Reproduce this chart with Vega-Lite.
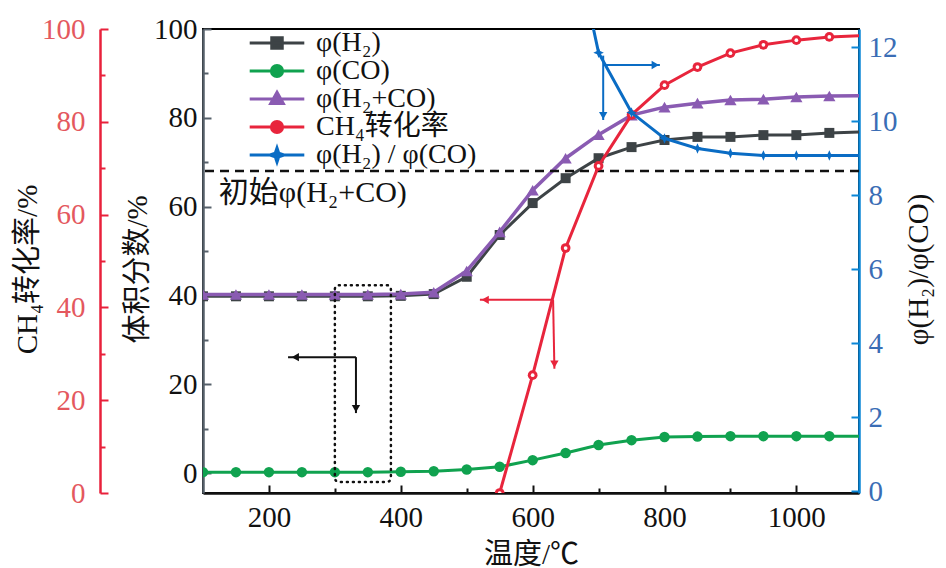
{
  "$schema": "https://vega.github.io/schema/vega-lite/v6.json",
  "width": 656,
  "height": 464,
  "autosize": {"type": "none"},
  "padding": {"left": 203, "top": 29, "right": 87, "bottom": 75},
  "background": "white",
  "config": {
    "font": "Liberation Serif, Noto Sans CJK SC",
    "style": {
      "guide-label": {"font": "Liberation Serif", "fontSize": 29},
      "guide-title": {"font": "Liberation Serif, Noto Sans CJK SC"}
    },
    "view": {"stroke": "black", "strokeWidth": 2},
    "axis": {
      "grid": false,
      "labelFont": "Liberation Serif",
      "labelFontSize": 29,
      "labelColor": "#111111",
      "titleFont": "Liberation Serif, Noto Sans CJK SC",
      "titleFontSize": 29,
      "titleFontWeight": "normal",
      "titleColor": "#111111",
      "tickWidth": 2,
      "domainWidth": 2.5
    },
    "legend": {
      "orient": "none",
      "legendX": 60,
      "legendY": 0,
      "padding": 0,
      "labelFont": "Liberation Serif, Noto Sans CJK SC",
      "labelFontSize": 28,
      "labelColor": "#111111",
      "labelOffset": 25,
      "labelLimit": 400,
      "rowPadding": 0,
      "symbolSize": 196,
      "symbolStrokeWidth": 3,
      "symbolOpacity": 1
    }
  },
  "datasets": {
    "main": [
      {"T": 100, "H2": 39.8, "CO": 0.2, "sum": 40.2, "X": null, "R": null},
      {"T": 150, "H2": 39.8, "CO": 0.2, "sum": 40.2, "X": null, "R": null},
      {"T": 200, "H2": 39.8, "CO": 0.2, "sum": 40.2, "X": null, "R": null},
      {"T": 250, "H2": 39.8, "CO": 0.2, "sum": 40.2, "X": null, "R": null},
      {"T": 300, "H2": 39.8, "CO": 0.2, "sum": 40.2, "X": null, "R": null},
      {"T": 350, "H2": 39.8, "CO": 0.2, "sum": 40.2, "X": null, "R": null},
      {"T": 400, "H2": 39.9, "CO": 0.3, "sum": 40.3, "X": null, "R": null},
      {"T": 450, "H2": 40.3, "CO": 0.4, "sum": 40.7, "X": null, "R": null},
      {"T": 500, "H2": 44.2, "CO": 0.8, "sum": 45.5, "X": null, "R": null},
      {"T": 550, "H2": 53.6, "CO": 1.4, "sum": 54.3, "X": 0, "R": null},
      {"T": 600, "H2": 60.8, "CO": 2.9, "sum": 63.7, "X": 25.4, "R": null},
      {"T": 650, "H2": 66.4, "CO": 4.5, "sum": 70.9, "X": 52.8, "R": 16},
      {"T": 700, "H2": 70.9, "CO": 6.3, "sum": 76.2, "X": 70.5, "R": 11.86},
      {"T": 750, "H2": 73.4, "CO": 7.4, "sum": 80.6, "X": 81.5, "R": 10.24},
      {"T": 800, "H2": 75, "CO": 8.1, "sum": 82.4, "X": 87.9, "R": 9.54},
      {"T": 850, "H2": 75.7, "CO": 8.2, "sum": 83.3, "X": 91.8, "R": 9.27},
      {"T": 900, "H2": 75.7, "CO": 8.3, "sum": 84, "X": 94.8, "R": 9.14},
      {"T": 950, "H2": 76.1, "CO": 8.3, "sum": 84.2, "X": 96.6, "R": 9.08},
      {"T": 1000, "H2": 76.1, "CO": 8.3, "sum": 84.7, "X": 97.6, "R": 9.08},
      {"T": 1050, "H2": 76.6, "CO": 8.3, "sum": 84.9, "X": 98.3, "R": 9.08},
      {"T": 1100, "H2": 76.8, "CO": 8.3, "sum": 85, "X": 98.6, "R": 9.08}
    ],
    "legendItems": [
      {"name": "φ(H₂)"},
      {"name": "φ(CO)"},
      {"name": "φ(H₂+CO)"},
      {"name": "CH₄转化率"},
      {"name": "φ(H₂) / φ(CO)"}
    ]
  },
  "resolve": {"scale": {"y": "independent"}},
  "layer": [
    {
      "data": {"name": "main"},
      "layer": [
        {
          "mark": {"type": "line", "color": "#3d4346", "strokeWidth": 3, "clip": true},
          "encoding": {
            "x": {
              "field": "T", "type": "quantitative",
              "scale": {"domain": [100, 1095], "nice": false},
              "axis": {
                "title": "温度/℃",
                "values": [200, 300, 400, 500, 600, 700, 800, 900, 1000],
                "format": "d",
                "labelFont": "Liberation Serif",
                "labelFontSize": 29,
                "labelExpr": "datum.value % 200 === 0 ? datum.label : ''",
                "tickSize": {"condition": {"test": "datum.value % 200 === 0", "value": -8}, "value": -5},
                "labelPadding": 18,
                "domainColor": "#111111",
                "tickColor": "#111111",
                "titlePadding": 8
              }
            },
            "y": {
              "field": "H2", "type": "quantitative",
              "scale": {"domain": [-4.5, 100], "nice": false},
              "axis": {
                "orient": "left",
                "title": "体积分数/%",
                "values": [0, 10, 20, 30, 40, 50, 60, 70, 80, 90, 100],
                "labelFont": "Liberation Serif",
                "labelFontSize": 29,
                "labelExpr": "datum.value % 20 === 0 ? datum.label : ''",
                "tickSize": {"condition": {"test": "datum.value % 20 === 0", "value": -8}, "value": -5},
                "labelPadding": 14,
                "domainColor": "#56606a",
                "tickColor": "#56606a",
                "titleX": -66,
                "titleY": 240,
                "titleAngle": 270,
                "titleAlign": "center",
                "titleBaseline": "middle"
              }
            }
          }
        },
        {
          "transform": [{"filter": "datum.T <= 1050"}],
          "mark": {"type": "point", "shape": "square", "size": 100, "filled": true, "opacity": 1, "color": "#3d4346", "clip": true},
          "encoding": {
            "x": {"field": "T", "type": "quantitative", "scale": {"domain": [100, 1095], "nice": false}},
            "y": {"field": "H2", "type": "quantitative", "scale": {"domain": [-4.5, 100], "nice": false}}
          }
        },
        {
          "mark": {"type": "line", "color": "#10a24f", "strokeWidth": 3, "clip": true},
          "encoding": {
            "x": {"field": "T", "type": "quantitative", "scale": {"domain": [100, 1095], "nice": false}},
            "y": {"field": "CO", "type": "quantitative", "scale": {"domain": [-4.5, 100], "nice": false}}
          }
        },
        {
          "transform": [{"filter": "datum.T <= 1050"}],
          "mark": {"type": "point", "shape": "circle", "size": 110, "filled": true, "opacity": 1, "color": "#10a24f", "clip": true},
          "encoding": {
            "x": {"field": "T", "type": "quantitative", "scale": {"domain": [100, 1095], "nice": false}},
            "y": {"field": "CO", "type": "quantitative", "scale": {"domain": [-4.5, 100], "nice": false}}
          }
        },
        {
          "mark": {"type": "line", "color": "#8a5bb2", "strokeWidth": 3.5, "clip": true},
          "encoding": {
            "x": {"field": "T", "type": "quantitative", "scale": {"domain": [100, 1095], "nice": false}},
            "y": {"field": "sum", "type": "quantitative", "scale": {"domain": [-4.5, 100], "nice": false}}
          }
        },
        {
          "transform": [{"filter": "datum.T <= 1050"}],
          "mark": {"type": "point", "shape": "triangle-up", "size": 150, "filled": true, "opacity": 1, "color": "#8a5bb2", "clip": true},
          "encoding": {
            "x": {"field": "T", "type": "quantitative", "scale": {"domain": [100, 1095], "nice": false}},
            "y": {"field": "sum", "type": "quantitative", "scale": {"domain": [-4.5, 100], "nice": false}}
          }
        },
        {
          "data": {"values": [{"v": 68}]},
          "mark": {"type": "rule", "color": "#111111", "strokeWidth": 2.5, "strokeDash": [9, 6]},
          "encoding": {
            "y": {"field": "v", "type": "quantitative", "scale": {"domain": [-4.5, 100], "nice": false}}
          }
        },
        {
          "data": {"values": [{"x": 124, "y": 63, "label": "初始φ(H₂+CO)"}]},
          "mark": {"type": "text", "align": "left", "baseline": "middle", "font": "Liberation Serif, Noto Sans CJK SC", "fontSize": 30, "color": "#111111"},
          "encoding": {
            "x": {"field": "x", "type": "quantitative", "scale": {"domain": [100, 1095], "nice": false}},
            "y": {"field": "y", "type": "quantitative", "scale": {"domain": [-4.5, 100], "nice": false}},
            "text": {"field": "label"}
          }
        },
        {
          "data": {"values": [{"x": 300, "x2": 385, "y": -2, "y2": 42.3}]},
          "mark": {"type": "rect", "fillOpacity": 0, "stroke": "#111111", "strokeWidth": 2.5, "strokeDash": [1, 5], "strokeCap": "round", "cornerRadius": 4},
          "encoding": {
            "x": {"field": "x", "type": "quantitative", "scale": {"domain": [100, 1095], "nice": false}},
            "x2": {"field": "x2"},
            "y": {"field": "y", "type": "quantitative", "scale": {"domain": [-4.5, 100], "nice": false}},
            "y2": {"field": "y2"}
          }
        },
        {
          "data": {"values": [{"x": 229, "y": 26.1, "x2": 332, "y2": 26.1}, {"x": 332, "y": 26.1, "x2": 332, "y2": 13.5}]},
          "mark": {"type": "rule", "color": "#111111", "strokeWidth": 2},
          "encoding": {
            "x": {"field": "x", "type": "quantitative", "scale": {"domain": [100, 1095], "nice": false}},
            "x2": {"field": "x2"},
            "y": {"field": "y", "type": "quantitative", "scale": {"domain": [-4.5, 100], "nice": false}},
            "y2": {"field": "y2"}
          }
        },
        {
          "data": {"values": [{"x": 240, "y": 26.1}]},
          "mark": {"type": "point", "shape": "triangle-left", "size": 70, "filled": true, "opacity": 1, "color": "#111111"},
          "encoding": {
            "x": {"field": "x", "type": "quantitative", "scale": {"domain": [100, 1095], "nice": false}},
            "y": {"field": "y", "type": "quantitative", "scale": {"domain": [-4.5, 100], "nice": false}}
          }
        },
        {
          "data": {"values": [{"x": 332, "y": 14.5}]},
          "mark": {"type": "point", "shape": "triangle-down", "size": 70, "filled": true, "opacity": 1, "color": "#111111"},
          "encoding": {
            "x": {"field": "x", "type": "quantitative", "scale": {"domain": [100, 1095], "nice": false}},
            "y": {"field": "y", "type": "quantitative", "scale": {"domain": [-4.5, 100], "nice": false}}
          }
        },
        {
          "data": {"values": [{"x": 520, "y": 39, "x2": 631, "y2": 39}, {"x": 631, "y": 39, "x2": 633, "y2": 23.5}]},
          "mark": {"type": "rule", "color": "#e8253c", "strokeWidth": 2},
          "encoding": {
            "x": {"field": "x", "type": "quantitative", "scale": {"domain": [100, 1095], "nice": false}},
            "x2": {"field": "x2"},
            "y": {"field": "y", "type": "quantitative", "scale": {"domain": [-4.5, 100], "nice": false}},
            "y2": {"field": "y2"}
          }
        },
        {
          "data": {"values": [{"x": 528, "y": 39}]},
          "mark": {"type": "point", "shape": "triangle-left", "size": 70, "filled": true, "opacity": 1, "color": "#e8253c"},
          "encoding": {
            "x": {"field": "x", "type": "quantitative", "scale": {"domain": [100, 1095], "nice": false}},
            "y": {"field": "y", "type": "quantitative", "scale": {"domain": [-4.5, 100], "nice": false}}
          }
        },
        {
          "data": {"values": [{"x": 633, "y": 24.5}]},
          "mark": {"type": "point", "shape": "triangle-down", "size": 70, "filled": true, "opacity": 1, "color": "#e8253c"},
          "encoding": {
            "x": {"field": "x", "type": "quantitative", "scale": {"domain": [100, 1095], "nice": false}},
            "y": {"field": "y", "type": "quantitative", "scale": {"domain": [-4.5, 100], "nice": false}}
          }
        },
        {
          "data": {"values": [{"x": 707, "y": 91.9, "x2": 793, "y2": 91.9}, {"x": 707, "y": 94, "x2": 707, "y2": 79.5}]},
          "mark": {"type": "rule", "color": "#0a6cc4", "strokeWidth": 2},
          "encoding": {
            "x": {"field": "x", "type": "quantitative", "scale": {"domain": [100, 1095], "nice": false}},
            "x2": {"field": "x2"},
            "y": {"field": "y", "type": "quantitative", "scale": {"domain": [-4.5, 100], "nice": false}},
            "y2": {"field": "y2"}
          }
        },
        {
          "data": {"values": [{"x": 786, "y": 91.9}]},
          "mark": {"type": "point", "shape": "triangle-right", "size": 70, "filled": true, "opacity": 1, "color": "#0a6cc4"},
          "encoding": {
            "x": {"field": "x", "type": "quantitative", "scale": {"domain": [100, 1095], "nice": false}},
            "y": {"field": "y", "type": "quantitative", "scale": {"domain": [-4.5, 100], "nice": false}}
          }
        },
        {
          "data": {"values": [{"x": 707, "y": 80.5}]},
          "mark": {"type": "point", "shape": "triangle-down", "size": 70, "filled": true, "opacity": 1, "color": "#0a6cc4"},
          "encoding": {
            "x": {"field": "x", "type": "quantitative", "scale": {"domain": [100, 1095], "nice": false}},
            "y": {"field": "y", "type": "quantitative", "scale": {"domain": [-4.5, 100], "nice": false}}
          }
        },
        {
          "data": {"name": "legendItems"},
          "mark": {"type": "point", "filled": true, "opacity": 0},
          "encoding": {
            "fill": {
              "field": "name", "type": "nominal",
              "scale": {"domain": ["φ(H₂)", "φ(CO)", "φ(H₂+CO)", "CH₄转化率", "φ(H₂) / φ(CO)"], "range": ["#3d4346", "#10a24f", "#8a5bb2", "#e8253c", "#0a6cc4"]},
              "legend": {"title": null}
            },
            "stroke": {
              "field": "name", "type": "nominal",
              "scale": {"domain": ["φ(H₂)", "φ(CO)", "φ(H₂+CO)", "CH₄转化率", "φ(H₂) / φ(CO)"], "range": ["#3d4346", "#10a24f", "#8a5bb2", "#e8253c", "#0a6cc4"]},
              "legend": {"title": null}
            },
            "shape": {
              "field": "name", "type": "nominal",
              "scale": {"domain": ["φ(H₂)", "φ(CO)", "φ(H₂+CO)", "CH₄转化率", "φ(H₂) / φ(CO)"], "range": [
                "M-3.9,0H3.9M-0.75,-0.75H0.75V0.75H-0.75Z",
                "M-3.9,0H3.9M-0.8,0A0.8,0.8,0,1,1,0.8,0A0.8,0.8,0,1,1,-0.8,0Z",
                "M-3.9,0H3.9M0,-0.95L0.9,0.65H-0.9Z",
                "M-3.9,0H3.9M-0.8,0A0.8,0.8,0,1,1,0.8,0A0.8,0.8,0,1,1,-0.8,0Z",
                "M-3.9,0H3.9M0,-1L0.25,-0.25L1,0L0.25,0.25L0,1L-0.25,0.25L-1,0L-0.25,-0.25Z"
              ]},
              "legend": {"title": null}
            }
          }
        }
      ]
    },
    {
      "data": {"name": "main"},
      "layer": [
        {
          "mark": {"type": "line", "color": "#e8253c", "strokeWidth": 3, "clip": true},
          "encoding": {
            "x": {"field": "T", "type": "quantitative", "scale": {"domain": [100, 1095], "nice": false}},
            "y": {
              "field": "X", "type": "quantitative",
              "scale": {"domain": [0, 100], "nice": false},
              "axis": {
                "orient": "left",
                "offset": 103,
                "title": "CH₄转化率/%",
                "values": [0, 10, 20, 30, 40, 50, 60, 70, 80, 90, 100],
                "labelFont": "Liberation Serif",
                "labelFontSize": 29,
                "labelExpr": "datum.value % 20 === 0 ? datum.label : ''",
                "tickSize": {"condition": {"test": "datum.value % 20 === 0", "value": -8}, "value": -5},
                "labelPadding": 23,
                "labelColor": "#e4585e",
                "domainColor": "#e8213b",
                "tickColor": "#e8213b",
                "titleX": -73,
                "titleY": 240,
                "titleAngle": 270,
                "titleAlign": "center",
                "titleBaseline": "middle"
              }
            }
          }
        },
        {
          "transform": [{"filter": "datum.T <= 1050"}],
          "mark": {"type": "point", "shape": "circle", "size": 95, "filled": true, "opacity": 1, "color": "#e8253c", "clip": true},
          "encoding": {
            "x": {"field": "T", "type": "quantitative", "scale": {"domain": [100, 1095], "nice": false}},
            "y": {"field": "X", "type": "quantitative", "scale": {"domain": [0, 100], "nice": false}}
          }
        },
        {
          "transform": [{"filter": "datum.T <= 1050"}],
          "mark": {"type": "point", "shape": "circle", "size": 14, "filled": true, "opacity": 1, "color": "#ffffff", "clip": true},
          "encoding": {
            "x": {"field": "T", "type": "quantitative", "scale": {"domain": [100, 1095], "nice": false}},
            "y": {"field": "X", "type": "quantitative", "scale": {"domain": [0, 100], "nice": false}}
          }
        }
      ]
    },
    {
      "data": {"name": "main"},
      "layer": [
        {
          "mark": {"type": "line", "color": "#0a6cc4", "strokeWidth": 3, "clip": true},
          "encoding": {
            "x": {"field": "T", "type": "quantitative", "scale": {"domain": [100, 1095], "nice": false}},
            "y": {
              "field": "R", "type": "quantitative",
              "scale": {"domain": [-0.05, 12.5], "nice": false},
              "axis": {
                "orient": "right",
                "title": "φ(H₂)/φ(CO)",
                "values": [0, 1, 2, 3, 4, 5, 6, 7, 8, 9, 10, 11, 12],
                "labelFont": "Liberation Serif",
                "labelFontSize": 29,
                "labelExpr": "datum.value % 2 === 0 ? datum.label : ''",
                "tickSize": {"condition": {"test": "datum.value % 2 === 0", "value": -8}, "value": -5},
                "labelPadding": 17,
                "labelColor": "#3a6db5",
                "domainColor": "#0a86d6",
                "tickColor": "#0a86d6",
                "titleX": 59,
                "titleY": 240,
                "titleAngle": 270,
                "titleAlign": "center",
                "titleBaseline": "middle"
              }
            }
          }
        },
        {
          "transform": [{"filter": "datum.T <= 1050"}],
          "mark": {"type": "point", "shape": "M0,-1L0.3,-0.3L1,0L0.3,0.3L0,1L-0.3,0.3L-1,0L-0.3,-0.3Z", "size": 110, "filled": true, "opacity": 1, "color": "#0a6cc4", "clip": true},
          "encoding": {
            "x": {"field": "T", "type": "quantitative", "scale": {"domain": [100, 1095], "nice": false}},
            "y": {"field": "R", "type": "quantitative", "scale": {"domain": [-0.05, 12.5], "nice": false}}
          }
        }
      ]
    }
  ]
}
